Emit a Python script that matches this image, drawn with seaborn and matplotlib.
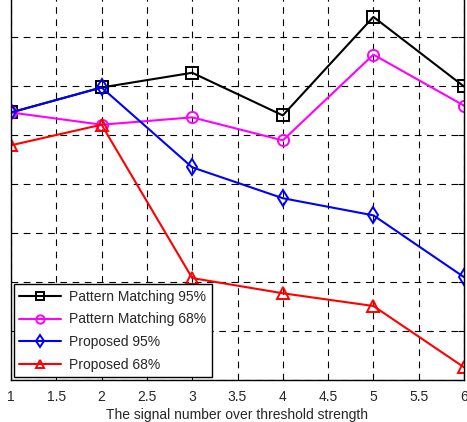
import numpy as np
import pandas as pd
import matplotlib
matplotlib.use("Agg")
import matplotlib.pyplot as plt
import seaborn as sns

signal_number = [1, 2, 3, 4, 5, 6]
pattern_95 = [5.46, 5.97, 6.27, 5.40, 7.41, 5.99]
pattern_68 = [5.46, 5.21, 5.36, 4.89, 6.64, 5.60]
proposed_95 = [5.46, 5.97, 4.34, 3.71, 3.36, 2.10]
proposed_68 = [4.79, 5.21, 2.08, 1.77, 1.51, 0.26]

series = [
    ("Pattern Matching 95%", pattern_95, "black", "s"),
    ("Pattern Matching 68%", pattern_68, "magenta", "o"),
    ("Proposed 95%", proposed_95, "blue", "d"),
    ("Proposed 68%", proposed_68, "red", "^"),
]

sns.set_style("white")
plt.rcParams["font.family"] = ["Liberation Sans", "DejaVu Sans"]

fig = plt.figure(figsize=(4.67, 4.22), dpi=100)
# axes top goes above the figure edge, like the cropped original
ax = fig.add_axes([11 / 467, 42 / 422, 453 / 467, 392 / 422])

for name, vals, color, marker in series:
    df = pd.DataFrame({"x": signal_number, "y": vals})
    sns.lineplot(data=df, x="x", y="y", ax=ax, color=color, marker=marker,
                 markersize=8, markerfacecolor="none", markeredgecolor=color,
                 markeredgewidth=1.4, linewidth=1.5, label=name)

ax.set_xlim(1, 6)
ax.set_ylim(0, 8)
ax.set_xticks(np.arange(1, 6.01, 0.5))
ax.set_xticklabels(["1", "1.5", "2", "2.5", "3", "3.5", "4", "4.5", "5", "5.5", "6"])
ax.set_yticks(range(0, 9))
ax.set_yticklabels([])
ax.tick_params(axis="both", direction="in", length=4, color="black",
               top=True, right=True, labelsize=10, pad=7)
ax.grid(True, color="black", linestyle=(0, (6, 5)), linewidth=0.8)
for s in ax.spines.values():
    s.set_color("black")
    s.set_linewidth(1.0)
ax.set_xlabel("The signal number over threshold strength", fontsize=10, labelpad=3)
ax.set_ylabel("")

leg = ax.legend(loc="lower left", fontsize=10, frameon=True, fancybox=False,
                edgecolor="black", framealpha=1, handlelength=3.0,
                borderaxespad=0.2, labelspacing=0.62, markerscale=0.75,
                handletextpad=0.6)
leg.get_frame().set_linewidth(1.0)

fig.savefig("out.png", dpi=100)
